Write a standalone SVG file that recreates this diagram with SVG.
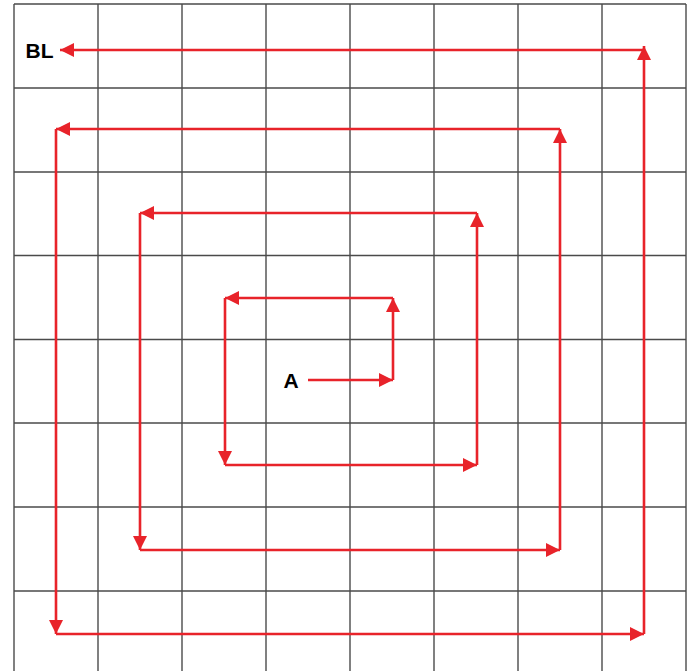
<svg xmlns="http://www.w3.org/2000/svg" width="687" height="671" viewBox="0 0 687 671">
<style>
.grid line{stroke:#4a4a4a;stroke-width:1.4}
.arr{stroke:#e8232a;stroke-width:2.6;fill:none;marker-end:url(#ah)}
.lbl{font-family:"Liberation Sans",Arial,sans-serif;font-weight:bold;font-size:21px;fill:#000}
</style>
<defs>
<marker id="ah" markerUnits="userSpaceOnUse" markerWidth="15" markerHeight="15" refX="14" refY="7" orient="auto">
<path d="M0,0 L14,7 L0,14 z" fill="#e8232a"/>
</marker>
</defs>
<rect width="687" height="671" fill="#fff"/>
<g class="grid" id="grid">
<line x1="14" y1="4" x2="14" y2="671"/>
<line x1="98" y1="4" x2="98" y2="671"/>
<line x1="182" y1="4" x2="182" y2="671"/>
<line x1="266" y1="4" x2="266" y2="671"/>
<line x1="350" y1="4" x2="350" y2="671"/>
<line x1="434" y1="4" x2="434" y2="671"/>
<line x1="518" y1="4" x2="518" y2="671"/>
<line x1="602" y1="4" x2="602" y2="671"/>
<line x1="686" y1="4" x2="686" y2="671"/>
<line x1="14" y1="4" x2="686" y2="4"/>
<line x1="14" y1="88" x2="686" y2="88"/>
<line x1="14" y1="172" x2="686" y2="172"/>
<line x1="14" y1="255.5" x2="686" y2="255.5"/>
<line x1="14" y1="339.5" x2="686" y2="339.5"/>
<line x1="14" y1="423" x2="686" y2="423"/>
<line x1="14" y1="507" x2="686" y2="507"/>
<line x1="14" y1="591" x2="686" y2="591"/>
</g>
<g id="node-A"><text class="lbl" x="291" y="388" text-anchor="middle">A</text></g>
<g id="node-BL"><text class="lbl" x="39.5" y="58" text-anchor="middle">BL</text></g>
<g id="connectors">
<line class="arr" x1="308" y1="380" x2="393" y2="380"/>
<line class="arr" x1="393" y1="380" x2="393" y2="298"/>
<line class="arr" x1="393" y1="298" x2="225" y2="298"/>
<line class="arr" x1="225" y1="298" x2="225" y2="465"/>
<line class="arr" x1="225" y1="465" x2="477" y2="465"/>
<line class="arr" x1="477" y1="465" x2="477" y2="213"/>
<line class="arr" x1="477" y1="213" x2="140" y2="213"/>
<line class="arr" x1="140" y1="213" x2="140" y2="550"/>
<line class="arr" x1="140" y1="550" x2="560" y2="550"/>
<line class="arr" x1="560" y1="550" x2="560" y2="129"/>
<line class="arr" x1="560" y1="129" x2="56" y2="129"/>
<line class="arr" x1="56" y1="129" x2="56" y2="634"/>
<line class="arr" x1="56" y1="634" x2="644" y2="634"/>
<line class="arr" x1="644" y1="634" x2="644" y2="46"/>
<line class="arr" x1="644" y1="50" x2="60" y2="50"/>
</g>
</svg>
